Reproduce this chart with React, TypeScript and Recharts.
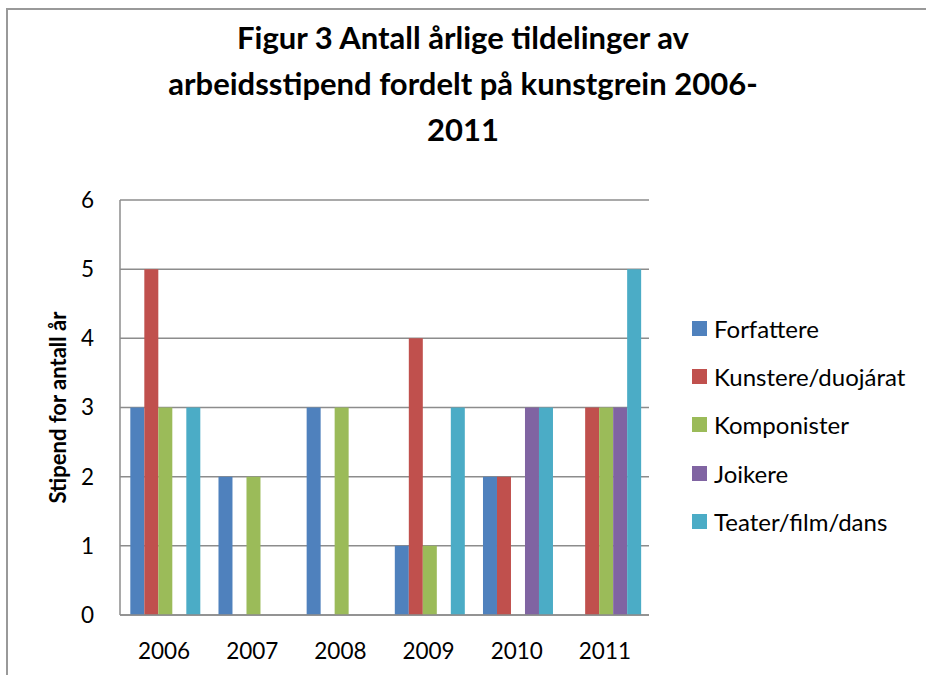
import React from "react";
import { BarChart, Bar, XAxis, YAxis, CartesianGrid } from "recharts";

const years = ["2006", "2007", "2008", "2009", "2010", "2011"];
const forfattere = [3, 2, 3, 1, 2, 0];
const kunstere = [5, 0, 0, 4, 2, 3];
const komponister = [3, 2, 3, 1, 0, 3];
const joikere = [0, 0, 0, 0, 3, 3];
const teater = [3, 0, 0, 3, 3, 5];
const yTicks = [0, 1, 2, 3, 4, 5, 6];

const series = [
  { key: "forfattere", name: "Forfattere", color: "#4F81BD", values: forfattere },
  { key: "kunstere", name: "Kunstere/duojárat", color: "#C0504D", values: kunstere },
  { key: "komponister", name: "Komponister", color: "#9BBB59", values: komponister },
  { key: "joikere", name: "Joikere", color: "#8064A2", values: joikere },
  { key: "teater", name: "Teater/film/dans", color: "#4BACC6", values: teater },
];

const data = years.map((year, i) => {
  const row: Record<string, string | number> = { year };
  series.forEach((s) => {
    row[s.key] = s.values[i];
  });
  return row;
});

const FONT = "Lato, 'Open Sans', sans-serif";

// legend drawn as plain html so it doesn't eat into the plot area
const ChartLegend = () => (
  <div style={{ position: "absolute", left: 692, top: 304, fontFamily: FONT, fontSize: 24, color: "#000" }}>
    {series.map((s) => (
      <div key={s.key} style={{ display: "flex", alignItems: "center", height: 48.3, whiteSpace: "nowrap" }}>
        <span style={{ width: 15, height: 15, background: s.color, display: "inline-block", marginRight: 7 }} />
        <span>{s.name}</span>
      </div>
    ))}
  </div>
);

const App: React.FC = () => {
  return (
    <div style={{ position: "absolute", left: 0, top: 0, width: 926, height: 675, background: "#fff", overflow: "hidden" }}>
      <div style={{ position: "absolute", left: 6, top: 8, width: 930, height: 700, borderLeft: "2px solid #999", borderTop: "2px solid #999" }} />
      <div
        style={{
          position: "absolute",
          left: 0,
          top: 14,
          width: 926,
          textAlign: "center",
          fontFamily: FONT,
          fontWeight: "bold",
          fontSize: 31,
          lineHeight: "46px",
          color: "#000",
        }}
      >
        Figur 3 Antall årlige tildelinger av
        <br />
        arbeidsstipend fordelt på kunstgrein 2006-
        <br />
        2011
      </div>
      <BarChart
        width={926}
        height={675}
        data={data}
        margin={{ top: 200, right: 277, bottom: 30, left: 0 }}
        barCategoryGap="11.7%"
        barGap={0}
        style={{ position: "absolute", left: 0, top: 0, fontFamily: FONT }}
      >
        <CartesianGrid vertical={false} stroke="#8c8c8c" strokeWidth={1.5} />
        <XAxis
          dataKey="year"
          height={30}
          tickLine={false}
          tickSize={0}
          tickMargin={28}
          stroke="#8c8c8c"
          strokeWidth={1.5}
          tick={{ fill: "#000", fontSize: 22.5 }}
        />
        <YAxis
          width={120}
          domain={[0, 6]}
          ticks={yTicks}
          tickLine={false}
          tickSize={0}
          tickMargin={26}
          stroke="#8c8c8c"
          strokeWidth={1.5}
          tick={{ fill: "#000", fontSize: 22.5 }}
          label={{
            value: "Stipend for antall år",
            angle: -90,
            position: "insideLeft",
            offset: 0,
            dx: 58,
            style: { fontWeight: "bold", fontSize: 22, fill: "#000", textAnchor: "middle" },
          }}
        />
        {series.map((s) => (
          <Bar key={s.key} dataKey={s.key} name={s.name} fill={s.color} isAnimationActive={false} />
        ))}
      </BarChart>
      <ChartLegend />
    </div>
  );
};

export default App;
